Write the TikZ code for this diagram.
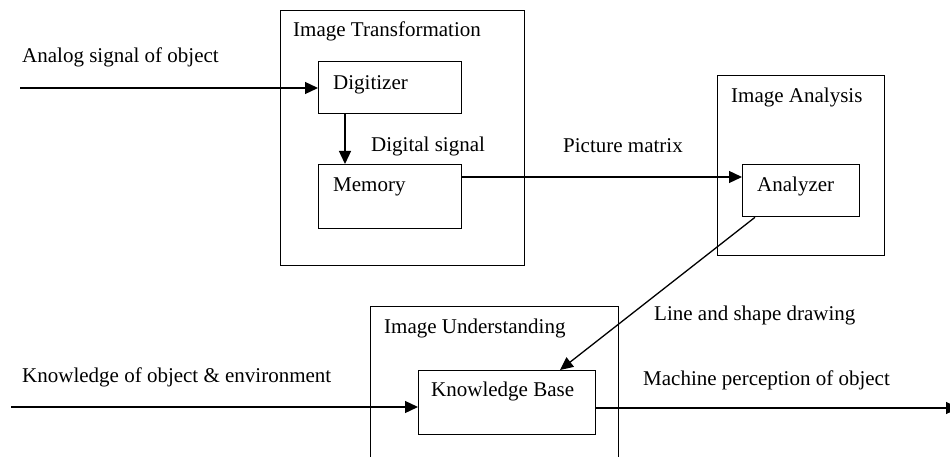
\documentclass[tikz,border=0pt]{standalone}
\usepackage{fontspec}
\setmainfont{Liberation Serif}
\usetikzlibrary{arrows.meta,calc}
\begin{document}
\begin{tikzpicture}[x=1pt,y=-1pt,
  box/.style={draw,line width=1.3pt,rectangle,inner sep=0pt,anchor=north west},
  lbl/.style={inner sep=0pt,anchor=base west,font=\fontsize{21}{25}\selectfont},
  arr/.style={line width=1.3pt,-{Triangle[length=13pt,width=12pt]}},
  ln/.style={line width=1.3pt}]
\useasboundingbox (0,0) rectangle (950,457);
% outer boxes
\node[box,minimum width=244pt,minimum height=255pt] (it) at (280,10) {};
\node[box,minimum width=167pt,minimum height=180pt] (ia) at (717,75) {};
\node[box,minimum width=248pt,minimum height=190pt] (iu) at (370,306) {};
% inner boxes
\node[box,minimum width=143pt,minimum height=52pt] (dig) at (318,61) {};
\node[box,minimum width=143pt,minimum height=64pt] (mem) at (318,164) {};
\node[box,minimum width=117pt,minimum height=52pt] (ana) at (742,164) {};
\node[box,minimum width=177pt,minimum height=64pt] (kb) at (418,370) {};
% labels
\node[lbl] (tana) at (22,63) {Analog signal of object};
\node[lbl] (tit) at (293,37) {Image Transformation};
\node[lbl] (tdig) at (333,90) {Digitizer};
\node[lbl] (tds) at (371,152) {Digital signal};
\node[lbl] (tmem) at (333,192) {Memory};
\node[lbl] (tpm) at (563,153) {Picture matrix};
\node[lbl] (tia) at (731,103) {Image Analysis};
\node[lbl] (tanz) at (757,192) {Analyzer};
\node[lbl] (tiu) at (384,333) {Image Understanding};
\node[lbl] (tkb) at (431,396) {Knowledge Base};
\node[lbl] (tls) at (654,320) {Line and shape drawing};
\node[lbl] (tmp) at (643,385) {Machine perception of object};
\node[lbl] (tko) at (22,382) {Knowledge of object \& environment};
% connectors
\coordinate (ain) at (20,88);
\draw[arr] (ain) -- (ain -| dig.west);
\coordinate (dgo) at ($(dig.south west)+(27,0)$);
\draw[arr] (dgo) -- (dgo |- mem.north);
\coordinate (mo) at ($(mem.north east)+(0,13)$);
\draw[arr] (mo) -- (mo -| ana.west);
\coordinate (ao) at ($(ana.south west)+(13,0)$);
\coordinate (ki) at ($(kb.north west)+(142,0)$);
\draw[arr] (ao) -- (ki);
\coordinate (kin) at (11,407);
\draw[arr] (kin) -- (kin -| kb.west);
\coordinate (kout) at (959,408);
\draw[arr] (kout -| kb.east) -- (kout);
\end{tikzpicture}
\end{document}
